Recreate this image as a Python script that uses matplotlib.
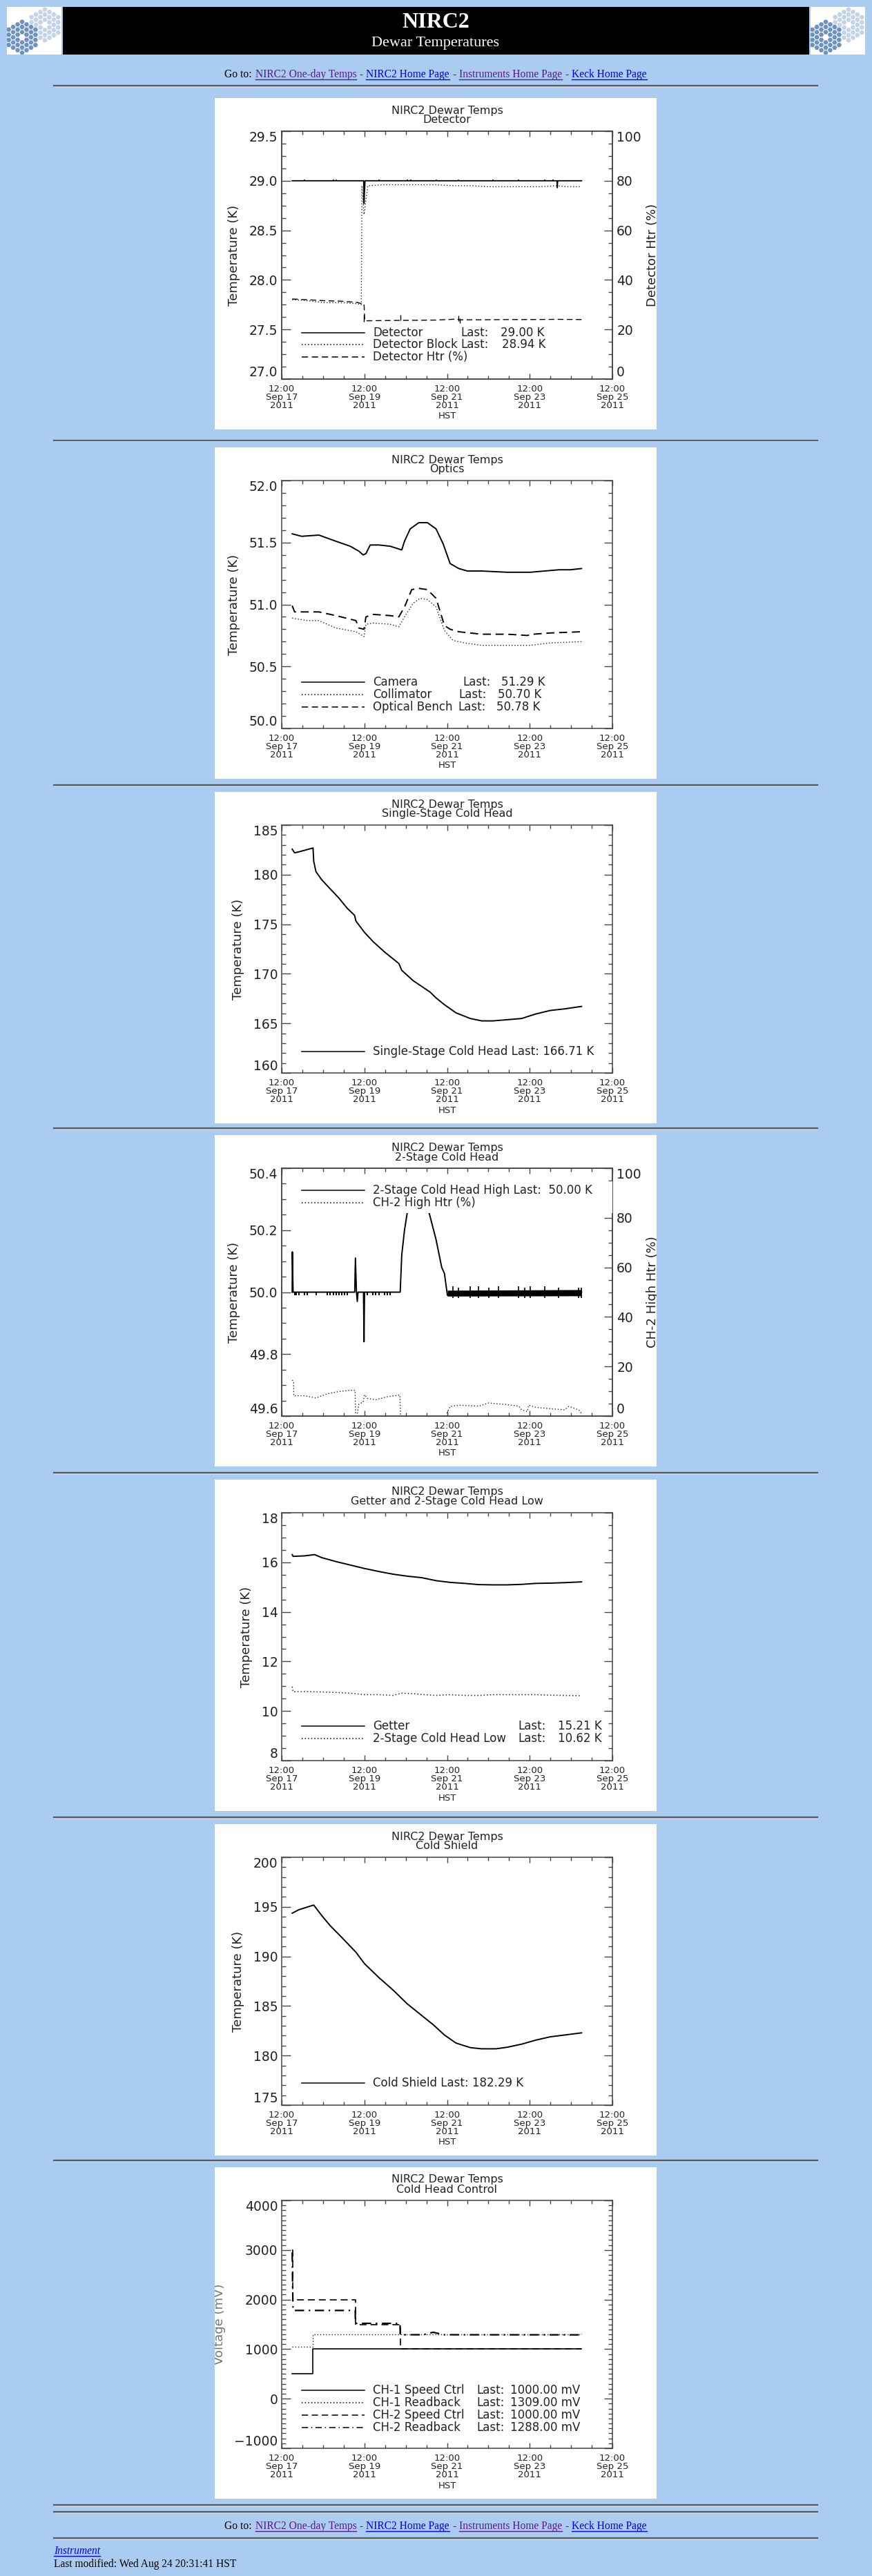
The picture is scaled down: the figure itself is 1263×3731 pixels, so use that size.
import numpy as np
import matplotlib
matplotlib.use('Agg')
import matplotlib.pyplot as plt
from matplotlib.lines import Line2D
from matplotlib.patches import Rectangle, RegularPolygon
from matplotlib.transforms import Bbox, TransformedBbox
from matplotlib.ticker import MultipleLocator
from datetime import datetime, timedelta

W, H = 1263, 3731
BG = '#aaccf0'
INK = '#222222'
AXC = '#444444'
SERIF = 'Liberation Serif'
PURPLE = '#5a1a8b'
BLUE = '#0000ee'

DOT = (0, (1, 2))
DASH = (0, (6, 3.5))
DASHDOT = (0, (6, 3, 1, 3))

# ---------------- data (hours after 12:00 Sep 17 2011 HST) ----------------
t0 = datetime(2011, 9, 17, 12, 0)
tick_hours = [0, 48, 96, 144, 192]

# Detector
det_t = [6.1, 47.6, 47.8, 48.1, 48.4, 159.8, 160.0, 160.2, 174.1]
det_v = [29.00, 29.00, 28.77, 28.90, 29.00, 29.00, 28.93, 29.00, 29.00]
det_spk_t = [13.3, 29.9, 31.5, 56.4, 73.0, 75.0, 89.6, 102.8, 122.7, 137.6, 152.6, 157.6]
det_spk_v = [29.01, 29.012, 29.01, 29.01, 29.012, 29.01, 29.012, 29.01, 29.012, 29.01, 29.01, 29.01]
blk_t = [6.1, 15, 25, 35, 44, 46.2, 46.6, 47.8, 50, 60, 75, 90, 100, 110, 120, 135, 150, 160, 165, 174.1]
blk_v = [27.80, 27.79, 27.77, 27.77, 27.76, 27.75, 28.95, 28.66, 28.95, 28.96, 28.96, 28.96, 28.95,
         28.95, 28.94, 28.94, 28.94, 28.95, 28.94, 28.94]
htr_t = [6.1, 15, 25, 35, 44, 46.4, 47.8, 48.2, 60, 75, 90, 102, 103, 115, 130, 145, 160, 174.1]
htr_v = [32.3, 32.0, 31.6, 31.4, 30.9, 30.4, 30.4, 23.5, 23.6, 23.7, 23.8, 24.2, 23.9, 23.9, 24.0, 24.0, 24.1, 24.0]
htr_spk_t = [47.8, 69.0, 102.8, 103.5]
htr_spk_lo = [23.0, 23.6, 23.5, 22.5]
htr_spk_hi = [26.0, 26.0, 25.5, 24.5]

# Optics
cam_t = [6.1, 11.6, 21.6, 31.5, 39.8, 44.8, 47.3, 48.9, 51.4, 56.4, 63.0, 69.7, 71.3, 74.6, 79.6, 84.6,
         89.6, 93.7, 97.8, 102.8, 107.8, 116.1, 131.0, 144.3, 152.6, 160.9, 167.5, 174.1]
cam_v = [51.57, 51.55, 51.56, 51.51, 51.47, 51.43, 51.40, 51.41, 51.48, 51.48, 51.47, 51.44, 51.51, 51.61,
         51.66, 51.66, 51.61, 51.49, 51.33, 51.29, 51.27, 51.27, 51.26, 51.26, 51.27, 51.28, 51.28, 51.29]
col_t = [6.1, 14.9, 21.6, 31.5, 43.1, 47.8, 48.9, 53.1, 63.0, 68.0, 71.3, 76.3, 80.4, 84.6, 89.6, 94.5,
         99.5, 106.1, 116.1, 131.0, 144.3, 155.9, 174.1]
col_v = [50.89, 50.87, 50.87, 50.81, 50.78, 50.74, 50.84, 50.85, 50.84, 50.82, 50.90, 51.01, 51.05, 51.04,
         50.98, 50.79, 50.71, 50.69, 50.67, 50.67, 50.67, 50.69, 50.70]
ben_t = [6.1, 7.5, 14.9, 21.6, 31.5, 43.1, 44.8, 47.8, 48.9, 53.1, 63.0, 68.0, 71.3, 75.5, 79.6, 84.6,
         89.6, 94.5, 97.8, 102.8, 116.1, 131.0, 142.6, 145.9, 155.9, 174.1]
ben_v = [50.99, 50.94, 50.94, 50.94, 50.91, 50.87, 50.81, 50.80, 50.90, 50.92, 50.91, 50.90, 50.98, 51.12,
         51.13, 51.12, 51.05, 50.83, 50.80, 50.78, 50.76, 50.76, 50.75, 50.76, 50.77, 50.78]

# Single-stage cold head
sch_t = [6.1, 7.5, 10.0, 18.2, 18.6, 19.9, 23.2, 28.2, 33.2, 38.1, 42.3, 43.1, 48.1, 53.1, 59.7, 68.0,
         69.7, 76.3, 86.2, 89.6, 94.5, 101.2, 109.5, 116.1, 122.7, 131.0, 139.3, 147.6, 155.9, 164.2, 174.1]
sch_v = [182.57, 182.2, 182.3, 182.69, 181.34, 180.3, 179.49, 178.56, 177.64, 176.6, 175.9, 175.32,
         174.17, 173.24, 172.2, 171.04, 170.35, 169.31, 168.15, 167.57, 166.88, 166.06, 165.49, 165.25,
         165.25, 165.37, 165.49, 165.95, 166.3, 166.46, 166.71]

# 2-stage cold head high + heater
ch2_t = [6.1, 6.2, 6.6, 42.4, 42.8, 43.4, 43.9, 44.3, 47.5, 47.8, 48.1, 68.8, 69.7, 71.3, 73.0, 79.6,
         85.4, 89.6, 92.9, 94.5, 96.2, 174.1]
ch2_v = [50.00, 50.13, 50.00, 50.00, 50.11, 50.00, 49.97, 50.00, 50.00, 49.84, 50.00, 50.00, 50.12,
         50.20, 50.26, 50.33, 50.26, 50.17, 50.08, 50.06, 49.99, 50.00]
ch2_flk_t = [7.5, 8.5, 10.0, 13.3, 14.9, 19.9, 26.5, 28.2, 29.9, 31.5, 33.2, 34.8, 36.5, 38.1, 49.8,
             53.1, 54.7, 56.4, 59.7, 61.4, 63.0]
band_t = [96.2, 174.1]
band_lo = [49.987, 49.988]
band_hi = [50.006, 50.008]
band_spk_t = [99.5, 102.8, 109.5, 114.4, 120.2, 126.0, 137.6, 141.0, 144.3, 152.6, 160.9, 172.5, 174.1]
band_spk_hi = [50.02, 50.015, 50.02, 50.02, 50.015, 50.02, 50.02, 50.015, 50.02, 50.02, 50.015, 50.015, 50.015]
band_spk_lo = [49.98, 49.982, 49.98, 49.982, 49.98, 49.98, 49.98, 49.982, 49.98, 49.98, 49.982, 49.98, 49.98]
h2_t = [6.1, 6.9, 7.0, 13.3, 19.9, 26.5, 33.2, 39.8, 42.6, 42.9, 43.9, 44.8, 47.3, 48.1, 49.8, 54.7,
        61.4, 68.6, 69.0, 96.0, 96.2, 97.8, 102.8, 114.4, 120.2, 131.0, 137.6, 139.3, 142.6, 143.4,
        147.6, 155.9, 164.2, 166.7, 172.5, 174.1]
h2_v = [14.5, 14.0, 8.2, 8.2, 7.3, 9.0, 9.9, 10.4, 10.4, 1.1, 1.1, 4.8, 5.7, 8.6, 7.1, 6.6, 7.8, 8.5,
        0.0, 0.0, 1.6, 3.9, 4.4, 4.0, 5.3, 4.6, 4.0, 2.5, 1.8, 4.4, 3.5, 3.0, 2.5, 3.9, 2.5, 1.1]

# Getter and 2-stage low
get_t = [6.1, 6.6, 13.3, 19.1, 23.2, 31.5, 39.8, 48.1, 56.4, 64.7, 73.0, 81.3, 89.6, 97.8, 106.1,
         114.4, 122.7, 131.0, 139.3, 147.6, 155.9, 164.2, 174.1]
get_v = [16.31, 16.24, 16.26, 16.31, 16.19, 16.03, 15.89, 15.75, 15.63, 15.52, 15.44, 15.38, 15.26,
         15.19, 15.15, 15.10, 15.09, 15.09, 15.11, 15.15, 15.16, 15.18, 15.21]
low_t = [6.1, 6.6, 14.9, 23.2, 31.5, 39.8, 48.1, 56.4, 64.7, 69.7, 76.3, 82.9, 89.6, 97.8, 106.1,
         114.4, 122.7, 131.0, 139.3, 147.6, 155.9, 164.2, 174.1]
low_v = [10.98, 10.78, 10.78, 10.77, 10.75, 10.72, 10.66, 10.66, 10.63, 10.72, 10.70, 10.66, 10.63,
         10.66, 10.63, 10.63, 10.66, 10.66, 10.66, 10.66, 10.64, 10.63, 10.62]

# Cold shield
cs_t = [6.1, 10.0, 18.6, 23.2, 28.2, 34.8, 43.1, 48.1, 56.4, 64.7, 73.0, 81.3, 87.9, 94.5, 101.2,
        109.5, 116.1, 124.4, 131.0, 139.3, 147.6, 155.9, 164.2, 174.1]
cs_v = [194.36, 194.71, 195.18, 194.13, 193.09, 191.93, 190.42, 189.26, 187.87, 186.60, 185.20,
        184.04, 183.12, 182.07, 181.26, 180.80, 180.68, 180.68, 180.84, 181.15, 181.56, 181.89, 182.07, 182.29]

# Cold head control (mV)
s1_t = [6.1, 18.2, 174.1]
s1_v = [500, 1000, 1000]
r1_t = [6.1, 18.2, 174.1]
r1_v = [1050, 1295, 1309]
s2_t = [6.1, 6.6, 42.8, 68.8, 174.1]
s2_v = [3000, 2000, 1500, 1000, 1000]
r2_t = [6.1, 6.3, 6.6, 42.7, 42.8, 68.7, 68.8, 82.0, 88.0, 94.0, 174.1]
r2_v = [2950, 2350, 1780, 1780, 1520, 1520, 1290, 1290, 1340, 1290, 1288]

# ---------------- page layout ----------------
fig = plt.figure(figsize=(W / 100, H / 100), dpi=100, facecolor=BG)
plt.rcParams['font.family'] = ['DejaVu Sans']


def fx(x):
    return x / W


def fy(y):
    return 1 - y / H


PANEL_X = 311
PANEL_W, PANEL_H = 640, 480
panel_tops = [142, 648, 1147, 1644, 2143, 2642, 3139]
tick_labels = [(t0 + timedelta(hours=h)).strftime('%H:%M\n%b %d\n%Y') for h in tick_hours]


def panel_clip(top):
    return TransformedBbox(Bbox.from_extents(fx(PANEL_X), fy(top + PANEL_H), fx(PANEL_X + PANEL_W), fy(top)),
                           fig.transFigure)


def hr(y):
    fig.add_artist(Line2D([fx(78), fx(1184)], [fy(y), fy(y)], transform=fig.transFigure,
                          color='#5a5a5a', lw=1.6))
    fig.add_artist(Line2D([fx(78), fx(1184)], [fy(y + 1.5), fy(y + 1.5)], transform=fig.transFigure,
                          color='#c8d8ea', lw=0.8))


def style_y(ax, yt, labels):
    ax.set_yticks(yt)
    ax.set_yticklabels(labels)
    ticks = ax.yaxis.get_major_ticks()
    for tk in ticks:
        for lab in (tk.label1, tk.label2):
            lab.set_va('center_baseline')
    for lab in (ticks[0].label1, ticks[0].label2):
        lab.set_va('bottom')
    for lab in (ticks[-1].label1, ticks[-1].label2):
        lab.set_va('top')


def make_panel(top, subtitle, ylim, major, minor, fmt, ylabel='Temperature (K)', ycol=INK):
    fig.add_artist(Rectangle((fx(PANEL_X), fy(top + PANEL_H)), PANEL_W / W, PANEL_H / H,
                             transform=fig.transFigure, facecolor='white', edgecolor='none', zorder=-5))
    ax = fig.add_axes([fx(PANEL_X + 97), fy(top + 407), 479 / W, 359 / H])
    ax.set_facecolor('white')
    ax.set_xlim(0, 192)
    ax.set_ylim(*ylim)
    ax.set_xticks(tick_hours)
    ax.set_xticklabels(tick_labels)
    ax.xaxis.set_minor_locator(MultipleLocator(12))
    ax.yaxis.set_minor_locator(MultipleLocator(minor))
    ax.tick_params(axis='both', which='both', direction='in', top=True, right=True,
                   colors=AXC, labelcolor=INK)
    ax.tick_params(axis='y', which='major', length=9, width=1, labelsize=13.5, pad=4)
    ax.tick_params(axis='y', which='minor', length=4.5, width=1)
    ax.tick_params(axis='x', which='major', length=6, width=1, labelsize=9.5, pad=6)
    ax.tick_params(axis='x', which='minor', length=3.5, width=1)
    n = int(round((ylim[1] - ylim[0]) / major))
    yt = [ylim[0] + i * major for i in range(n + 1)]
    style_y(ax, yt, [(fmt % v).replace('-', '\u2212') for v in yt])
    for lab in ax.get_xticklabels():
        lab.set_linespacing(0.9)
    for sp in ax.spines.values():
        sp.set_color(AXC)
        sp.set_linewidth(1.1)
    lab = ax.set_ylabel(ylabel, fontsize=13, color=ycol, labelpad=9)
    lab.set_clip_box(panel_clip(top))
    lab.set_clip_on(True)
    cx = fx(PANEL_X + 336.5)
    fig.text(cx, fy(top + 18), 'NIRC2 Dewar Temps', fontsize=11.5, color=INK, ha='center', va='center')
    fig.text(cx, fy(top + 32), subtitle, fontsize=11.5, color=INK, ha='center', va='center')
    fig.text(cx, fy(top + 461), 'HST', fontsize=9.5, color=INK, ha='center', va='center')
    return ax


def add_right(ax, top, label):
    ax2 = ax.twinx()
    ax2.set_ylim(0, 100)
    ax2.yaxis.set_minor_locator(MultipleLocator(5))
    ax2.tick_params(axis='y', which='both', direction='in', colors=AXC, labelcolor=INK)
    ax2.tick_params(axis='y', which='major', length=9, width=1, labelsize=13.5, pad=4.5)
    ax2.tick_params(axis='y', which='minor', length=4.5, width=1)
    style_y(ax2, [0, 20, 40, 60, 80, 100], ['0', '20', '40', '60', '80', '100'])
    for sp in ax2.spines.values():
        sp.set_color(AXC)
        sp.set_linewidth(1.1)
    lab = ax2.set_ylabel(label, fontsize=13, color=INK)
    ax2.yaxis.set_label_coords(1.103, 0.5)
    lab.set_clip_box(panel_clip(top))
    lab.set_clip_on(True)
    return ax2


def legend_row(top, py, ls, pieces, fs=12):
    y = fy(top + py)
    fig.add_artist(Line2D([fx(PANEL_X + 126), fx(PANEL_X + 217)], [y, y], transform=fig.transFigure,
                          color='black', lw=1.1, linestyle=ls, zorder=6))
    for px, s in pieces:
        fig.text(fx(PANEL_X + px), y, s, fontsize=fs, color=INK, ha='left', va='center', zorder=6)


def link_line(y_base, pieces, center=631):
    r = fig.canvas.get_renderer()
    texts = []
    for s, col, ul in pieces:
        t = fig.text(0, fy(y_base), s, fontsize=11.2, family=SERIF, color=col, ha='left', va='baseline')
        texts.append((t, t.get_window_extent(r).width, col, ul))
    gap = 4.5
    total = sum(w for _, w, _, _ in texts) + gap * (len(texts) - 1)
    x = center - total / 2
    for t, w, col, ul in texts:
        t.set_x(fx(x))
        if ul:
            fig.add_artist(Line2D([fx(x), fx(x + w)], [fy(y_base + 2.5)] * 2, transform=fig.transFigure,
                                  color=col, lw=1))
        x += w + gap


def draw_logo(x0, y0, w, h):
    lax = fig.add_axes([fx(x0), fy(y0 + h), w / W, h / H])
    lax.set_xlim(0, w)
    lax.set_ylim(h, 0)
    lax.axis('off')
    lax.add_patch(Rectangle((0, 0), w, h, facecolor='white', edgecolor='none'))
    r = 4.3
    for cx, cy, col in [(55, 26, '#c4d4e7'), (22, 44, '#6e92bd')]:
        for q in range(-3, 4):
            for s in range(-3, 4):
                d = max(abs(q), abs(s), abs(q + s))
                if d == 0 or d > 3:
                    continue
                px = cx + 1.5 * r * q
                py = cy + np.sqrt(3) * r * (s + q / 2)
                lax.add_patch(RegularPolygon((px, py), 6, radius=r * 0.9, orientation=np.pi / 6,
                                             facecolor=col, edgecolor='white', lw=0.3))


# header
fig.add_artist(Rectangle((fx(91), fy(79)), 1081 / W, 69 / H, transform=fig.transFigure,
                         facecolor='black', edgecolor='none', zorder=-4))
draw_logo(10, 10, 79, 69)
draw_logo(1174, 10, 79, 69)
fig.text(fx(631), fy(32), 'NIRC2', fontsize=23, fontweight='bold', family=SERIF, color='white',
         ha='center', va='center')
fig.text(fx(631), fy(63), 'Dewar Temperatures', fontsize=16, family=SERIF, color='white',
         ha='center', va='center')

goto = [('Go to:', 'black', False), ('NIRC2 One-day Temps', PURPLE, True), ('-', 'black', False),
        ('NIRC2 Home Page', BLUE, True), ('-', 'black', False), ('Instruments Home Page', PURPLE, True),
        ('-', 'black', False), ('Keck Home Page', BLUE, True)]
link_line(112, goto)
hr(124)
for top in panel_tops[1:]:
    hr(top - 10)

# ---- panel 1: detector
top = panel_tops[0]
ax = make_panel(top, 'Detector', (27.0, 29.5), 0.5, 0.125, '%.1f')
ax.plot(det_t, det_v, color='black', lw=1.3)
ax.vlines(det_spk_t, 29.0, det_spk_v, color='black', lw=1.2)
ax.plot(blk_t, blk_v, color='#222222', lw=1.0, linestyle=DOT)
ax2 = add_right(ax, top, 'Detector Htr (%)')
ax2.plot(htr_t, htr_v, color='black', lw=1.0, linestyle=DASH)
ax2.vlines(htr_spk_t, htr_spk_lo, htr_spk_hi, color='black', lw=1.0)
legend_row(top, 340, '-', [(229, 'Detector'), (356, 'Last:'), (414, '29.00 K')])
legend_row(top, 357, DOT, [(229, 'Detector Block'), (356, 'Last:'), (416, '28.94 K')])
legend_row(top, 375, DASH, [(229, 'Detector Htr (%)')])

# ---- panel 2: optics
top = panel_tops[1]
ax = make_panel(top, 'Optics', (50.0, 52.0), 0.5, 0.1, '%.1f')
ax.plot(cam_t, cam_v, color='black', lw=1.4)
ax.plot(col_t, col_v, color='#222222', lw=1.0, linestyle=DOT)
ax.plot(ben_t, ben_v, color='black', lw=1.4, linestyle=DASH)
legend_row(top, 340, '-', [(229, 'Camera'), (359, 'Last:'), (415, '51.29 K')])
legend_row(top, 358, DOT, [(229, 'Collimator'), (353, 'Last:'), (410, '50.70 K')])
legend_row(top, 376, DASH, [(229, 'Optical Bench'), (352, 'Last:'), (408, '50.78 K')])

# ---- panel 3: single-stage cold head
top = panel_tops[2]
ax = make_panel(top, 'Single-Stage Cold Head', (160, 185), 5, 1, '%d')
ax.plot(sch_t, sch_v, color='black', lw=1.4)
legend_row(top, 376, '-', [(229, 'Single-Stage Cold Head Last: 166.71 K')])

# ---- panel 4: 2-stage cold head
top = panel_tops[3]
ax = make_panel(top, '2-Stage Cold Head', (49.6, 50.4), 0.2, 0.05, '%.1f')
ax.plot(ch2_t, ch2_v, color='black', lw=1.4)
ax.vlines(ch2_flk_t, 49.99, 50.0, color='black', lw=1.4)
ax.fill_between(band_t, band_lo, band_hi, color='black', lw=0)
ax.vlines(band_spk_t, band_spk_lo, band_spk_hi, color='black', lw=1.2)
ax2 = add_right(ax, top, 'CH-2 High Htr (%)')
ax2.plot(h2_t, h2_v, color='#222222', lw=1.0, linestyle=DOT)
fig.add_artist(Rectangle((fx(PANEL_X + 118), fy(top + 113)), 458 / W, 46 / H, transform=fig.transFigure,
                         facecolor='white', edgecolor='none', zorder=5))
legend_row(top, 80, '-', [(229, '2-Stage Cold Head High Last:  50.00 K')])
legend_row(top, 98, DOT, [(229, 'CH-2 High Htr (%)')])

# ---- panel 5: getter and 2-stage low
top = panel_tops[4]
ax = make_panel(top, 'Getter and 2-Stage Cold Head Low', (8, 18), 2, 0.5, '%d')
ax.plot(get_t, get_v, color='black', lw=1.4)
ax.plot(low_t, low_v, color='#222222', lw=1.1, linestyle=DOT)
legend_row(top, 357, '-', [(229, 'Getter'), (439, 'Last:'), (497, '15.21 K')])
legend_row(top, 375, DOT, [(229, '2-Stage Cold Head Low'), (439, 'Last:'), (497, '10.62 K')])

# ---- panel 6: cold shield
top = panel_tops[5]
ax = make_panel(top, 'Cold Shield', (175, 200), 5, 1, '%d')
ax.plot(cs_t, cs_v, color='black', lw=1.4)
legend_row(top, 375, '-', [(229, 'Cold Shield Last: 182.29 K')])

# ---- panel 7: cold head control
top = panel_tops[6]
ax = make_panel(top, 'Cold Head Control', (-1000, 4000), 1000, 100, '%d', ylabel='Voltage (mV)',
                ycol='#777777')
ax.plot(s1_t, s1_v, color='black', lw=1.2, drawstyle='steps-post')
ax.plot(r1_t, r1_v, color='#222222', lw=1.0, linestyle=DOT, drawstyle='steps-post')
ax.plot(s2_t, s2_v, color='black', lw=1.2, linestyle=DASH, drawstyle='steps-post')
ax.plot(r2_t, r2_v, color='black', lw=1.6, linestyle=DASHDOT)
legend_row(top, 323, '-', [(229, 'CH-1 Speed Ctrl'), (379, 'Last:'), (428, '1000.00 mV')])
legend_row(top, 341, DOT, [(229, 'CH-1 Readback'), (379, 'Last:'), (428, '1309.00 mV')])
legend_row(top, 359, DASH, [(229, 'CH-2 Speed Ctrl'), (379, 'Last:'), (428, '1000.00 mV')])
legend_row(top, 377, DASHDOT, [(229, 'CH-2 Readback'), (379, 'Last:'), (428, '1288.00 mV')])

# footer
hr(3628)
hr(3638)
link_line(3663, goto)
hr(3676)
fig.text(fx(78), fy(3699), 'Instrument', fontsize=11.2, family=SERIF, style='italic', color=BLUE,
         ha='left', va='baseline')
fig.add_artist(Line2D([fx(78), fx(145)], [fy(3702)] * 2, transform=fig.transFigure, color=BLUE, lw=1))
fig.text(fx(78), fy(3718), 'Last modified: Wed Aug 24 20:31:41 HST', fontsize=11.2, family=SERIF,
         color='black', ha='left', va='baseline')

fig.savefig('out.png', dpi=100, facecolor=BG)
